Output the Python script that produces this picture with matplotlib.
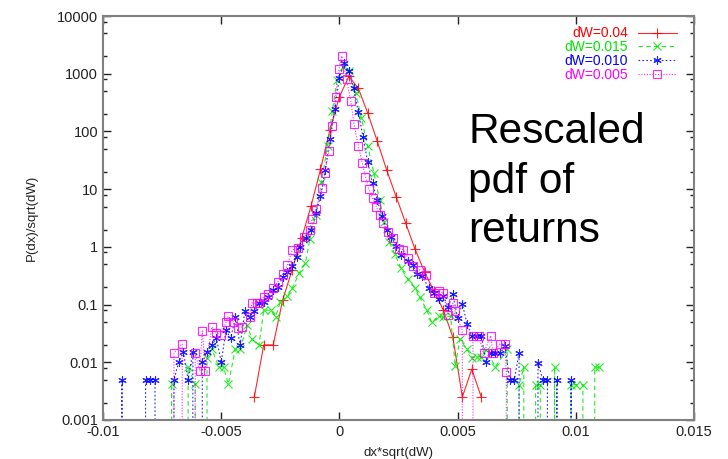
import numpy as np
import matplotlib.pyplot as plt
from matplotlib.ticker import LogLocator, NullFormatter

plt.rcParams['font.family'] = ['Liberation Sans', 'DejaVu Sans']

labels = ['dW=0.04', 'dW=0.015', 'dW=0.010', 'dW=0.005']

# dW=0.04
x_04 = [-0.0036, -0.0032, -0.0028, -0.0024, -0.0020, -0.0016, -0.0012, -0.0008, -0.0004, 0.0,
        0.0004, 0.0008, 0.0012, 0.0016, 0.0020, 0.0024, 0.0028, 0.0032, 0.0036, 0.0040,
        0.0044, 0.0048, 0.0052, 0.0056, 0.0060]
y_04 = [0.0025, 0.02, 0.02, 0.12, 0.4, 1.4, 5.1, 22, 107, 400,
        900, 560, 207, 68, 21.5, 7.4, 2.6, 0.91, 0.37, 0.17,
        0.08, 0.027, 0.0025, 0.0076, 0.0025]

# dW=0.015  (0 = empty bin)
x_015 = [-0.0073, -0.0071, -0.0069, -0.0066, -0.0064, -0.0061, -0.0059, -0.0057, -0.0056, -0.0054,
         -0.0051, -0.0049, -0.0047, -0.0044, -0.0042, -0.0039, -0.0037, -0.0034, -0.0032, -0.0029,
         -0.0027, -0.0025, -0.0022, -0.0020, -0.0017, -0.00144, -0.00125, -0.0010, -0.00076, -0.0005,
         -0.0003, -0.0001, 0.00015, 0.0004, 0.00069, 0.00093, 0.0012, 0.00146, 0.0017, 0.0019,
         0.0021, 0.00234, 0.0026, 0.0029, 0.0032, 0.0034, 0.0037, 0.0039, 0.0042, 0.0044,
         0.0047, 0.0049, 0.0051, 0.0054, 0.0056, 0.0058, 0.0060, 0.0062, 0.0066, 0.0071,
         0.0073, 0.0074, 0.0076, 0.0078, 0.0080, 0.0081, 0.0083, 0.0085, 0.0087, 0.0089,
         0.0091, 0.0093, 0.0096, 0.0098, 0.0100, 0.0103, 0.0105, 0.0106, 0.0108, 0.0110]
y_015 = [0, 0.0042, 0, 0, 0.0082, 0.0042, 0, 0, 0.012, 0.017,
         0.0083, 0.0083, 0.0042, 0.017, 0.017, 0.044, 0.025, 0.02, 0.08, 0.08,
         0.062, 0.11, 0.14, 0.19, 0.35, 0.52, 1.36, 3.5, 13.5, 57,
         225, 780, 1300, 1100, 460, 170, 55, 19, 6.5, 2.7,
         1.23, 0.75, 0.43, 0.275, 0.196, 0.134, 0.08, 0.049, 0.063, 0.06,
         0.063, 0.0086, 0.025, 0.0168, 0.012, 0.0125, 0.0125, 0.0163, 0.0084, 0.0168,
         0, 0, 0.0041, 0.0082, 0, 0, 0.0041, 0.0041, 0, 0,
         0.0082, 0, 0, 0.0041, 0.0041, 0.0041, 0, 0, 0.0082, 0.0082]

# dW=0.010
x_010 = [-0.0094, -0.0092, -0.0090, -0.0084, -0.0082, -0.0080, -0.0078, -0.0076, -0.0072, -0.0070,
         -0.0068, -0.0066, -0.0064, -0.0062, -0.0060, -0.0058, -0.0056, -0.0054, -0.0052, -0.0050,
         -0.0048, -0.0046, -0.0044, -0.0042, -0.0040, -0.0038, -0.0036, -0.0034, -0.0032, -0.0030,
         -0.0028, -0.0026, -0.0024, -0.0022, -0.0020, -0.0018, -0.00165, -0.0014, -0.0012, -0.0010,
         -0.0008, -0.0006, -0.0004, -0.0002, 0.0, 0.0002, 0.0004, 0.0006, 0.0008, 0.0010,
         0.0012, 0.0014, 0.0016, 0.0018, 0.0020, 0.0022, 0.0024, 0.0026, 0.0029, 0.0031,
         0.0033, 0.0035, 0.0038, 0.0040, 0.0042, 0.0044, 0.0046, 0.0048, 0.0050, 0.0052,
         0.0054, 0.0056, 0.0058, 0.0060, 0.0062, 0.0064, 0.0066, 0.0068, 0.0070, 0.0072,
         0.0074, 0.0076, 0.0078, 0.0082, 0.0084, 0.0086, 0.0088, 0.0090, 0.0092, 0.0094,
         0.0096, 0.0098, 0.0100]
y_010 = [0, 0.005, 0, 0, 0.005, 0.005, 0.005, 0, 0, 0.005,
         0.01, 0.015, 0.005, 0.015, 0, 0.01, 0.0153, 0.02, 0.026, 0.01,
         0.036, 0.026, 0.06, 0.02, 0.076, 0.062, 0.076, 0.105, 0.112, 0.137,
         0.18, 0.2, 0.3, 0.36, 0.47, 0.67, 0.98, 1.4, 2.0, 3.8,
         7.5, 21.5, 74, 250, 850, 1550, 1130, 560, 218, 80,
         29, 12.6, 6.5, 3.4, 2.0, 1.5, 1.04, 0.72, 0.58, 0.49,
         0.34, 0.31, 0.19, 0.157, 0.124, 0.14, 0.092, 0.15, 0.058, 0.102,
         0.047, 0.028, 0.028, 0.029, 0.0102, 0.0143, 0.0143, 0.0143, 0.019, 0.005,
         0.005, 0.0147, 0, 0, 0.0098, 0.005, 0.005, 0, 0.005, 0,
         0, 0.005, 0]

# dW=0.005
x_005 = [-0.0072, -0.0070, -0.00665, -0.0064, -0.0062, -0.0061, -0.0059, -0.0058, -0.00567, -0.0054,
         -0.0052, -0.0050, -0.0048, -0.0047, -0.0045, -0.0043, -0.0041, -0.0038, -0.0037, -0.0035,
         -0.0034, -0.0032, -0.0030, -0.0028, -0.0026, -0.0024, -0.0022, -0.0020, -0.00175, -0.0015,
         -0.00125, -0.00115, -0.0010, -0.00072, -0.00062, -0.00045, -0.0003, -0.00016, -0.00002, 0.0001,
         0.0003, 0.00048, 0.00062, 0.0008, 0.00097, 0.0011, 0.00125, 0.0014, 0.00156, 0.0017,
         0.00184, 0.00205, 0.00227, 0.0025, 0.0027, 0.0029, 0.0031, 0.0034, 0.00365, 0.0040,
         0.0042, 0.0044, 0.0046, 0.0048, 0.0049, 0.0052, 0.0054, 0.00565, 0.0059, 0.0061,
         0.0064, 0.0065, 0.0068, 0.0070, 0.00706, 0.0072]
y_005 = [0, 0.0143, 0.021, 0, 0, 0.0143, 0.0071, 0.035, 0.0071, 0.041,
         0.032, 0.03, 0.049, 0.063, 0.05, 0.04, 0.041, 0.062, 0.107, 0.105,
         0.107, 0.137, 0.15, 0.19, 0.25, 0.34, 0.48, 0.88, 0.95, 1.47,
         2.0, 3.1, 4.5, 10.4, 19, 45, 125, 400, 1210, 2040,
         800, 340, 133, 56, 28, 16.5, 10, 7, 5, 3.6,
         2.56, 1.84, 1.41, 0.91, 0.9, 0.65, 0.47, 0.4, 0.33, 0.16,
         0.17, 0.157, 0.066, 0.105, 0.076, 0.036, 0, 0.028, 0.028, 0.0143,
         0.029, 0.0143, 0.021, 0.021, 0.0069, 0]

xticks = [-0.01, -0.005, 0, 0.005, 0.01, 0.015]
xticklabels = ['-0.01', '-0.005', '0', '0.005', '0.01', '0.015']
yticks = [0.001, 0.01, 0.1, 1, 10, 100, 1000, 10000]
yticklabels = ['0.001', '0.01', '0.1', '1', '10', '100', '1000', '10000']

fig = plt.figure(figsize=(7.28, 4.59), dpi=100)
ax = fig.add_axes([0.1415, 0.085, 0.8118, 0.880])
ax.set_yscale('log', nonpositive='clip')

ax.plot(x_04, y_04, color='#ff0000', ls='-', lw=0.8, marker='+', ms=6.5, mew=0.8, alpha=0.85,
        label=labels[0])
ax.plot(x_015, y_015, color='#00e600', ls=(0, (4, 3)), lw=0.8, marker='x', ms=5.5, mew=0.8,
        alpha=0.85, label=labels[1])
ax.plot(x_010, y_010, color='#0000ff', ls=(0, (1.5, 2)), lw=0.8, marker=(6, 2, 0), ms=6, mew=0.8,
        alpha=0.85, label=labels[2])
ax.plot(x_005, y_005, color='#ff00ff', ls=(0, (1, 1.5)), lw=0.8, marker='s', ms=6, mew=0.8,
        fillstyle='none', alpha=0.85, label=labels[3])

ax.set_xlim(-0.01, 0.015)
ax.set_ylim(0.001, 10000)
ax.set_xticks(xticks, xticklabels)
ax.set_yticks(yticks, yticklabels)
ax.yaxis.set_minor_locator(LogLocator(base=10, subs=(2, 5, 8)))
ax.yaxis.set_minor_formatter(NullFormatter())
ax.tick_params(which='both', direction='in', top=True, right=True, labelsize=10.5,
               colors='#222222', width=1)
ax.tick_params(which='major', length=6)
ax.tick_params(which='minor', length=3)
for s in ax.spines.values():
    s.set_color('#808080')
    s.set_linewidth(1.5)

ax.set_xlabel('dx*sqrt(dW)', fontsize=9.5, color='#222222', labelpad=6)
ax.set_ylabel('P(dx)/sqrt(dW)', fontsize=9.5, color='#222222', labelpad=14)

ax.legend(loc='upper right', bbox_to_anchor=(0.98, 0.988), frameon=False, markerfirst=False,
          labelcolor='linecolor', fontsize=10, handlelength=2.8, handletextpad=0.7,
          labelspacing=-0.02, numpoints=1, borderaxespad=0)

fig.text(0.643, 0.755, 'Rescaled\npdf of\nreturns', fontsize=30.5, va='top', ha='left',
         linespacing=1.3, color='black')

fig.savefig('out.png', dpi=100)
